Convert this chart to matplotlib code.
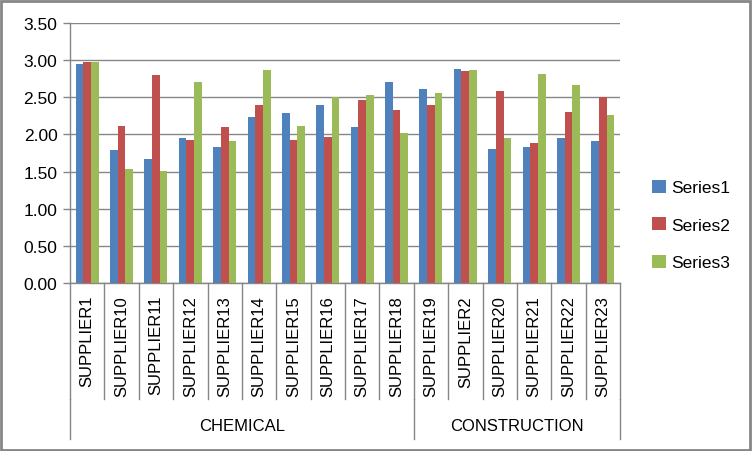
import matplotlib
matplotlib.use("Agg")
import matplotlib.pyplot as plt
from matplotlib.transforms import blended_transform_factory
from matplotlib.patches import Rectangle
import numpy as np

categories = ["SUPPLIER1", "SUPPLIER10", "SUPPLIER11", "SUPPLIER12", "SUPPLIER13",
              "SUPPLIER14", "SUPPLIER15", "SUPPLIER16", "SUPPLIER17", "SUPPLIER18",
              "SUPPLIER19", "SUPPLIER2", "SUPPLIER20", "SUPPLIER21", "SUPPLIER22",
              "SUPPLIER23"]
groups = ["CHEMICAL", "CONSTRUCTION"]
group_sizes = [10, 6]
series_names = ["Series1", "Series2", "Series3"]
series1 = [2.95, 1.79, 1.67, 1.95, 1.83, 2.24, 2.29, 2.39, 2.10, 2.70,
           2.61, 2.88, 1.81, 1.83, 1.95, 1.91]
series2 = [2.98, 2.12, 2.80, 1.93, 2.10, 2.40, 1.93, 1.97, 2.47, 2.33,
           2.40, 2.86, 2.59, 1.89, 2.30, 2.51]
series3 = [2.97, 1.54, 1.51, 2.70, 1.91, 2.87, 2.12, 2.51, 2.53, 2.02,
           2.56, 2.87, 1.95, 2.82, 2.67, 2.26]
yticks = [0.0, 0.5, 1.0, 1.5, 2.0, 2.5, 3.0, 3.5]
colors = ["#4F81BD", "#C0504D", "#9BBB59"]

plt.rcParams['font.family'] = ['Liberation Sans', 'DejaVu Sans']
W, H = 752, 452
fig = plt.figure(figsize=(W / 100, H / 100), dpi=100)
L, R, T, B = 70, 620, 24, 284
ax = fig.add_axes([L / W, 1 - B / H, (R - L) / W, (B - T) / H])

grid_c = "#868686"
n = len(categories)
w = 1 / 4.5
x = np.arange(n)
for k, (vals, name) in enumerate(zip([series1, series2, series3], series_names)):
    ax.bar(x + 0.5 + (k - 1) * w, vals, width=w, color=colors[k], label=name, zorder=3)

ax.set_xlim(0, n)
ax.set_ylim(0, 3.5)
ax.set_yticks(yticks)
ax.set_yticklabels([f"{v:.2f}" for v in yticks], fontsize=12.5, color="#000000")
ax.yaxis.grid(True, color=grid_c, linewidth=1, zorder=0)
ax.set_axisbelow(True)
ax.tick_params(axis='y', length=5, color=grid_c, width=1, pad=4)
ax.set_xticks([])
for s in ["top", "right"]:
    ax.spines[s].set_visible(False)
for s in ["left", "bottom"]:
    ax.spines[s].set_color(grid_c)
    ax.spines[s].set_linewidth(1)

trans = blended_transform_factory(ax.transData, ax.transAxes)
ph = B - T
def ay(py):
    return (B - py) / ph

# separators between categories
for i in range(n + 1):
    ax.plot([i, i], [0, ay(400)], transform=trans, color=grid_c, lw=1, clip_on=False)
# group separators
bounds = np.concatenate([[0], np.cumsum(group_sizes)])
for b in bounds:
    ax.plot([b, b], [ay(400), ay(440)], transform=trans, color=grid_c, lw=1, clip_on=False)
# category labels
for i, c in enumerate(categories):
    ax.text(i + 0.5, ay(296), c, rotation=90, ha='center', va='top',
            transform=trans, fontsize=12, color="#000000")
# group labels
for g, s0, s1 in zip(groups, bounds[:-1], bounds[1:]):
    ax.text((s0 + s1) / 2, ay(427), g, ha='center', va='center',
            transform=trans, fontsize=12, color="#000000")

leg = ax.legend(loc='center left', bbox_to_anchor=(636 / W, 1 - 226 / H),
                bbox_transform=fig.transFigure, frameon=False, fontsize=12.5,
                handlelength=0.8, handleheight=0.8, handletextpad=0.3,
                labelspacing=1.25)

fig.patches.append(Rectangle((1 / W, 1 / H), 1 - 3 / W, 1 - 3 / H,
                             transform=fig.transFigure, fill=False,
                             edgecolor="#868686", linewidth=2))

fig.savefig("out.png", dpi=100)
